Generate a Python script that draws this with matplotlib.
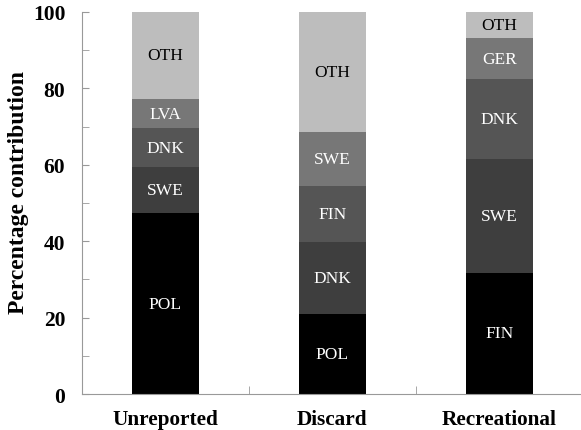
import numpy as np
import matplotlib
matplotlib.use("Agg")
import matplotlib.pyplot as plt
from matplotlib.ticker import MultipleLocator, FixedLocator

categories = ["Unreported", "Discard", "Recreational"]

# stacked segments per category, bottom to top
unreported_labels = ["POL", "SWE", "DNK", "LVA", "OTH"]
unreported_values = [47.3, 12.0, 10.2, 7.7, 22.8]

discard_labels = ["POL", "DNK", "FIN", "SWE", "OTH"]
discard_values = [20.9, 18.8, 14.8, 14.2, 31.3]

recreational_labels = ["FIN", "SWE", "DNK", "GER", "OTH"]
recreational_values = [31.8, 29.7, 21.0, 10.6, 6.9]

layer_colors = ["#000000", "#3e3e3e", "#555555", "#777777", "#bdbdbd"]
text_colors = ["white", "white", "white", "white", "black"]

plt.rcParams['font.family'] = ['Liberation Serif', 'DejaVu Serif']

fig = plt.figure(figsize=(5.81, 4.31), dpi=100)
ax = fig.add_axes([0.141, 0.0835, 0.862, 0.8865])

all_labels = [unreported_labels, discard_labels, recreational_labels]
all_values = [unreported_values, discard_values, recreational_values]

for i in range(len(categories)):
    bottom = 0
    for k in range(len(all_values[i])):
        v = all_values[i][k]
        ax.bar(i, v, width=0.4, bottom=bottom, color=layer_colors[k], edgecolor='none')
        ax.text(i, bottom + v / 2, all_labels[i][k], ha='center', va='center',
                color=text_colors[k], fontsize=12.5)
        bottom += v

ax.set_xlim(-0.5, 2.5)
ax.set_ylim(0, 100)
ax.set_xticks(range(len(categories)))
ax.set_xticklabels(categories, fontsize=15.3, fontweight='bold')
ax.xaxis.set_minor_locator(FixedLocator([0.5, 1.5]))
ax.tick_params(axis='x', which='major', length=0, pad=11)
ax.tick_params(axis='x', which='minor', direction='in', length=6, color='#999999')

ax.yaxis.set_major_locator(MultipleLocator(20))
ax.yaxis.set_minor_locator(MultipleLocator(10))
ax.tick_params(axis='y', which='both', direction='in', length=5, color='#999999', pad=12)
for lab in ax.get_yticklabels():
    lab.set_fontsize(15.5)
    lab.set_fontweight('bold')
ax.set_ylabel('Percentage contribution', fontsize=17, fontweight='bold', labelpad=3, y=0.53)

ax.spines['top'].set_visible(False)
ax.spines['right'].set_visible(False)
ax.spines['left'].set_color('#999999')
ax.spines['bottom'].set_color('#999999')

plt.savefig('out.png', dpi=100)
